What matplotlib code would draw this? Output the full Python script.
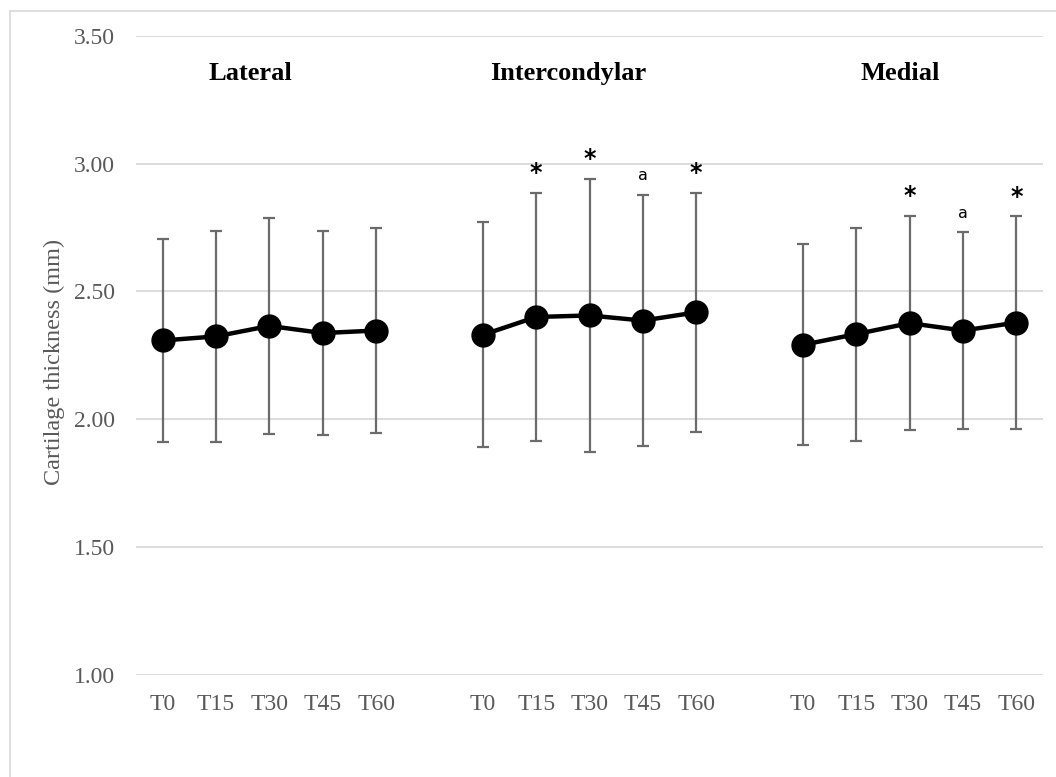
import numpy as np
import matplotlib.pyplot as plt
from matplotlib.lines import Line2D

# chart data
timepoints = ['T0', 'T15', 'T30', 'T45', 'T60']
regions = ['Lateral', 'Intercondylar', 'Medial']

lateral_mean = [2.308, 2.324, 2.365, 2.337, 2.347]
lateral_sd = [0.398, 0.412, 0.422, 0.400, 0.402]
intercondylar_mean = [2.330, 2.400, 2.406, 2.386, 2.418]
intercondylar_sd = [0.440, 0.486, 0.534, 0.493, 0.467]
medial_mean = [2.291, 2.333, 2.376, 2.347, 2.378]
medial_sd = [0.394, 0.417, 0.420, 0.385, 0.416]

lateral_marks = ['', '', '', '', '']
intercondylar_marks = ['', '*', '*', 'a', '*']
medial_marks = ['', '', '*', 'a', '*']

means = [lateral_mean, intercondylar_mean, medial_mean]
sds = [lateral_sd, intercondylar_sd, medial_sd]
marks = [lateral_marks, intercondylar_marks, medial_marks]

serif = 'Liberation Serif'
grey = '#595959'
title_shift = [-0.36, -0.40, -0.17]  # titles are not exactly centred on groups

fig = plt.figure(figsize=(10.56, 7.77), dpi=100)
ax = fig.add_axes([136/1056, 1 - 674.6/777, (1043 - 136)/1056, (674.6 - 36)/777])

n = len(timepoints)
tick_pos = []
tick_lab = []
for g in range(len(regions)):
    x = np.arange(n) + g * (n + 1)  # one empty slot between groups
    m = np.array(means[g])
    s = np.array(sds[g])
    ax.errorbar(x, m, yerr=s, fmt='none', ecolor='#6b6b6b', elinewidth=1.6,
                capsize=4, capthick=1.6, zorder=2)
    ax.plot(x, m, color='black', lw=3.2, marker='o', markersize=16.5, zorder=3)
    for xi, top, lab in zip(x, m + s, marks[g]):
        if lab == '*':
            ax.text(xi, top + 0.03, lab, ha='center', va='bottom', fontsize=17,
                    fontweight='bold', family='DejaVu Sans', color='black')
        elif lab:
            ax.text(xi, top + 0.045, lab, ha='center', va='bottom', fontsize=11.5,
                    family='DejaVu Sans', color='black')
    ax.text(x[2] + title_shift[g], 3.329, regions[g], ha='center', va='baseline',
            fontsize=19, fontweight='bold', family=serif)
    tick_pos += list(x)
    tick_lab += timepoints

ax.set_xlim(-0.5, 16.5)
ax.set_ylim(1.0, 3.5)
yt = np.arange(1.0, 3.51, 0.5)
ax.set_yticks(yt)
ax.set_yticklabels([f'{v:.2f}' for v in yt])
ax.set_xticks(tick_pos)
ax.set_xticklabels(tick_lab)
ax.tick_params(length=0, labelsize=17, labelcolor=grey, pad=14)
ax.tick_params(axis='y', pad=15)
for lab in ax.get_xticklabels() + ax.get_yticklabels():
    lab.set_family(serif)
ax.grid(axis='y', color='#d9d9d9', lw=1.3)
ax.set_axisbelow(True)
for sp in ax.spines.values():
    sp.set_visible(False)
ax.set_ylabel('Cartilage thickness (mm)', fontsize=17.5, color=grey, family=serif)
ax.yaxis.set_label_coords((65 - 136) / (1043 - 136), 0.49)

# light border of the chart area (left and top edges are visible)
fig.add_artist(Line2D([9.5/1056, 9.5/1056], [0, 1 - 11/777], color='#d9d9d9', lw=1.2))
fig.add_artist(Line2D([9.5/1056, 1], [1 - 11/777, 1 - 11/777], color='#d9d9d9', lw=1.2))

fig.savefig('out.png', dpi=100)
